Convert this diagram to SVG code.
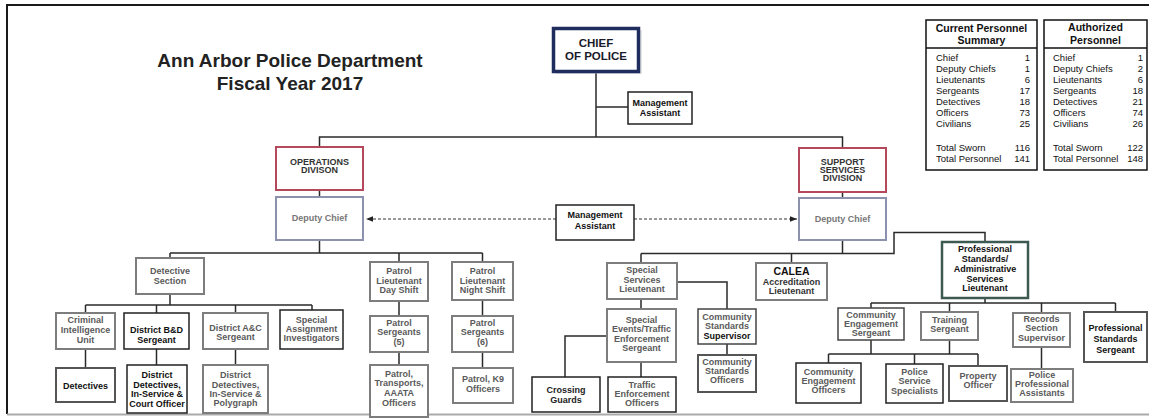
<svg xmlns="http://www.w3.org/2000/svg" width="1149" height="420" viewBox="0 0 1149 420">
<style>
text{font-family:"Liberation Sans",Arial,sans-serif}
.t{font-size:9px;font-weight:bold;text-anchor:middle;fill:#5a5a5a}
.tk{fill:#111}
.b{fill:#fff;stroke:#7d7d7d;stroke-width:2}
.bk{fill:#fff;stroke:#222;stroke-width:1.5}
.ln{stroke:#2a2a2a;stroke-width:1.5;fill:none}
.dash{stroke:#333;stroke-width:1;stroke-dasharray:3 2;fill:none}
.tb{font-size:9.5px;fill:#111}
.tn{font-size:9.5px;fill:#111;text-anchor:end}
.th{font-size:10.5px;font-weight:bold;fill:#111;text-anchor:middle}
</style>
<defs>
<marker id="ah" viewBox="0 0 10 10" refX="10" refY="5" markerWidth="7" markerHeight="7" orient="auto-start-reverse" markerUnits="userSpaceOnUse">
<path d="M0,1 L10,5 L0,9 z" fill="#222"/>
</marker>
</defs>
<rect width="1149" height="420" fill="#fff"/>
<!-- frame -->
<g id="frame">
<path d="M7,414 V5 H1149" stroke="#1a1a1a" stroke-width="2" fill="none"/>
<line x1="7" y1="414.5" x2="1149" y2="414.5" stroke="#aaa" stroke-width="2"/>
</g>
<!-- title -->
<g id="title">
<text x="290" y="67" font-size="19" font-weight="bold" text-anchor="middle" fill="#222">Ann Arbor Police Department</text>
<text x="290" y="90" font-size="19" font-weight="bold" text-anchor="middle" fill="#222">Fiscal Year 2017</text>
</g>
<!-- connectors -->
<g id="connectors">
<path class="ln" d="M596,72 V137 M596,107 H628"/>
<path class="ln" d="M319.5,147 V137 H842.5 V148"/>
<path class="ln" d="M319.5,190 V197 M842.5,192 V198"/>
<path class="dash" d="M556,219 H366" marker-end="url(#ah)"/>
<path class="dash" d="M634,219 H797" marker-end="url(#ah)"/>
<path class="ln" d="M319.5,240 V253 M170,253 H482.5 M170,253 V258 M399,253 V262 M482.5,253 V262"/>
<path class="ln" d="M170,294 V305 M85.5,305 H312 M85.5,305 V313 M156.5,305 V313 M235.5,305 V313 M312,305 V310"/>
<path class="ln" d="M85.5,349 V368 M156.5,349 V365 M235.5,349 V365"/>
<path class="ln" d="M399,301 V316 M399,352 V365 M482.5,300 V316 M482.5,352 V368"/>
<path class="ln" d="M842.5,240 V253.5 M641,253.5 H894 V232.5 H985 V242 M641,253.5 V263 M791.5,253.5 V263"/>
<path class="ln" d="M641,299 V309 M677,282 H727 V309 M727,344 V355 M607,336 H565 V377 M641,362 V377"/>
<path class="ln" d="M985,298 V303 M871,303 H1115.5 M871,303 V308 M949.5,303 V312 M1041.5,303 V313 M1115.5,303 V312"/>
<path class="ln" d="M871,340 V354 M949.5,340 V354 M828.5,354 H978 M828.5,354 V363 M914.5,354 V364 M978,354 V366"/>
<path class="ln" d="M1041.5,347 V369"/>
</g>
<!-- nodes -->
<g id="chief">
<rect x="556" y="30" width="86" height="44" fill="#ccc" opacity="0.5"/>
<rect x="553.5" y="28.5" width="85" height="43" fill="#fff" stroke="#1f2c5e" stroke-width="3.5"/>
<text x="596" y="47" font-size="11.5" font-weight="bold" text-anchor="middle" fill="#1a1a2a">CHIEF</text>
<text x="596" y="60" font-size="11.5" font-weight="bold" text-anchor="middle" fill="#1a1a2a">OF POLICE</text>
</g>
<g id="mgmt-assistant-chief">
<rect class="bk" x="628" y="92" width="64" height="32" stroke-width="1"/>
<text class="t tk" x="660" y="106">Management</text>
<text class="t tk" x="660" y="116">Assistant</text>
</g>
<g id="operations">
<rect x="276" y="147" width="87" height="43" fill="#fff" stroke="#b5485a" stroke-width="2"/>
<text class="t" x="319.5" y="165" style="fill:#333">OPERATIONS</text>
<text class="t" x="319.5" y="173" style="fill:#333">DIVISON</text>
</g>
<g id="ops-deputy">
<rect x="276" y="197" width="87" height="43" fill="#fff" stroke="#8c91ad" stroke-width="2"/>
<text class="t" x="319.5" y="221" style="fill:#777">Deputy Chief</text>
</g>
<g id="mgmt-assistant">
<rect class="bk" x="556" y="205" width="78" height="35" stroke-width="1"/>
<text class="t tk" x="595" y="218">Management</text>
<text class="t tk" x="595" y="229">Assistant</text>
</g>
<g id="support">
<rect x="799" y="148" width="87" height="44" fill="#fff" stroke="#b5485a" stroke-width="2"/>
<text class="t" x="842.5" y="165" style="fill:#333">SUPPORT</text>
<text class="t" x="842.5" y="173" style="fill:#333">SERVICES</text>
<text class="t" x="842.5" y="181" style="fill:#333">DIVISION</text>
</g>
<g id="sup-deputy">
<rect x="799" y="198" width="87" height="42" fill="#fff" stroke="#8c91ad" stroke-width="2"/>
<text class="t" x="842.5" y="222" style="fill:#777">Deputy Chief</text>
</g>
<g id="detective-section">
<rect class="b" x="136" y="258" width="68" height="36"/>
<text class="t" x="170" y="274">Detective</text>
<text class="t" x="170" y="284">Section</text>
</g>
<g id="criminal-intel">
<rect class="b" x="56" y="313" width="59" height="36"/>
<text class="t" x="85.5" y="323">Criminal</text>
<text class="t" x="85.5" y="333">Intelligence</text>
<text class="t" x="85.5" y="343">Unit</text>
</g>
<g id="district-bd">
<rect class="bk" x="124" y="313" width="65" height="36"/>
<text class="t tk" x="156.5" y="333">District B&amp;D</text>
<text class="t tk" x="156.5" y="343">Sergeant</text>
</g>
<g id="district-ac">
<rect class="b" x="203" y="313" width="65" height="36"/>
<text class="t" x="235.5" y="331">District A&amp;C</text>
<text class="t" x="235.5" y="340">Sergeant</text>
</g>
<g id="special-assignment">
<rect class="bk" x="280" y="310" width="63" height="39"/>
<text class="t" x="311.5" y="323">Special</text>
<text class="t" x="311.5" y="332">Assignment</text>
<text class="t" x="311.5" y="341">Investigators</text>
</g>
<g id="detectives">
<rect class="b" x="56" y="368" width="59" height="34" style="stroke:#555"/>
<text class="t tk" x="85.5" y="389">Detectives</text>
</g>
<g id="district-detectives-court">
<rect class="bk" x="127" y="365" width="60" height="48"/>
<text class="t tk" x="157" y="378">District</text>
<text class="t tk" x="157" y="388">Detectives,</text>
<text class="t tk" x="157" y="397">In-Service &amp;</text>
<text class="t tk" x="157" y="407">Court Officer</text>
</g>
<g id="district-detectives-polygraph">
<rect class="b" x="203" y="365" width="65" height="48"/>
<text class="t" x="235.5" y="378">District</text>
<text class="t" x="235.5" y="388">Detectives,</text>
<text class="t" x="235.5" y="397">In-Service &amp;</text>
<text class="t" x="235.5" y="406">Polygraph</text>
</g>
<g id="patrol-day">
<rect class="b" x="370" y="262" width="58" height="39"/>
<text class="t" x="399" y="274">Patrol</text>
<text class="t" x="399" y="284">Lieutenant</text>
<text class="t" x="399" y="293">Day Shift</text>
</g>
<g id="patrol-night">
<rect class="b" x="452" y="262" width="61" height="38"/>
<text class="t" x="482.5" y="274">Patrol</text>
<text class="t" x="482.5" y="284">Lieutenant</text>
<text class="t" x="482.5" y="293">Night Shift</text>
</g>
<g id="patrol-sgt-day">
<rect class="b" x="370" y="316" width="58" height="36"/>
<text class="t" x="399" y="326">Patrol</text>
<text class="t" x="399" y="335">Sergeants</text>
<text class="t" x="399" y="345">(5)</text>
</g>
<g id="patrol-sgt-night">
<rect class="b" x="452" y="316" width="61" height="36"/>
<text class="t" x="482.5" y="326">Patrol</text>
<text class="t" x="482.5" y="335">Sergeants</text>
<text class="t" x="482.5" y="345">(6)</text>
</g>
<g id="patrol-officers-day">
<rect class="b" x="370" y="365" width="58" height="52"/>
<text class="t" x="399" y="377">Patrol,</text>
<text class="t" x="399" y="386">Transports,</text>
<text class="t" x="399" y="396">AAATA</text>
<text class="t" x="399" y="406">Officers</text>
</g>
<g id="patrol-k9">
<rect class="b" x="453" y="368" width="60" height="35"/>
<text class="t" x="483" y="382">Patrol, K9</text>
<text class="t" x="483" y="392">Officers</text>
</g>
<g id="special-services-lt">
<rect class="b" x="607" y="263" width="70" height="36"/>
<text class="t" x="642" y="273">Special</text>
<text class="t" x="642" y="283">Services</text>
<text class="t" x="642" y="292">Lieutenant</text>
</g>
<g id="special-events">
<rect class="b" x="607" y="309" width="69" height="53"/>
<text class="t" x="641.5" y="323">Special</text>
<text class="t" x="641.5" y="332">Events/Traffic</text>
<text class="t" x="641.5" y="342">Enforcement</text>
<text class="t" x="641.5" y="351">Sergeant</text>
</g>
<g id="crossing-guards">
<rect class="bk" x="532" y="377" width="68" height="35"/>
<text class="t" x="566" y="393" style="fill:#222">Crossing</text>
<text class="t" x="566" y="403" style="fill:#222">Guards</text>
</g>
<g id="traffic-officers">
<rect class="bk" x="608" y="377" width="68" height="35"/>
<text class="t" x="642" y="388">Traffic</text>
<text class="t" x="642" y="397">Enforcement</text>
<text class="t" x="642" y="406">Officers</text>
</g>
<g id="community-std-supervisor">
<rect class="bk" x="698" y="309" width="58" height="35" style="stroke:#444"/>
<text class="t" x="727" y="320">Community</text>
<text class="t" x="727" y="329">Standards</text>
<text class="t tk" x="727" y="339">Supervisor</text>
</g>
<g id="community-std-officers">
<rect class="b" x="698" y="355" width="58" height="37" style="stroke:#555"/>
<text class="t" x="727" y="365">Community</text>
<text class="t" x="727" y="374">Standards</text>
<text class="t" x="727" y="383">Officers</text>
</g>
<g id="calea">
<rect class="b" x="756" y="263" width="71" height="37"/>
<text class="t tk" x="791.5" y="275" style="font-size:10.5px">CALEA</text>
<text class="t" x="791.5" y="285" style="fill:#333">Accreditation</text>
<text class="t" x="791.5" y="294" style="fill:#333">Lieutenant</text>
</g>
<g id="ps-as-lt">
<rect x="942" y="242" width="86" height="56" fill="#fff" stroke="#3c5a52" stroke-width="2.5"/>
<text class="t tk" x="985" y="252">Professional</text>
<text class="t tk" x="985" y="262">Standards/</text>
<text class="t tk" x="985" y="272">Administrative</text>
<text class="t tk" x="985" y="282">Services</text>
<text class="t tk" x="985" y="291">Lieutenant</text>
</g>
<g id="ce-sergeant">
<rect class="bk" x="838" y="308" width="66" height="32" style="stroke:#444"/>
<text class="t" x="871" y="318">Community</text>
<text class="t" x="871" y="327">Engagement</text>
<text class="t" x="871" y="336">Sergeant</text>
</g>
<g id="training-sergeant">
<rect class="b" x="921" y="312" width="57" height="28"/>
<text class="t" x="949.5" y="323">Training</text>
<text class="t" x="949.5" y="332">Sergeant</text>
</g>
<g id="records-supervisor">
<rect class="b" x="1013" y="313" width="57" height="34"/>
<text class="t" x="1041.5" y="322">Records</text>
<text class="t" x="1041.5" y="331">Section</text>
<text class="t" x="1041.5" y="341">Supervisor</text>
</g>
<g id="ps-sergeant">
<rect class="b" x="1084" y="312" width="63" height="50" style="stroke:#555"/>
<text class="t tk" x="1115.5" y="331">Professional</text>
<text class="t tk" x="1115.5" y="342">Standards</text>
<text class="t tk" x="1115.5" y="353">Sergeant</text>
</g>
<g id="ce-officers">
<rect class="bk" x="796" y="363" width="65" height="40"/>
<text class="t" x="828.5" y="375">Community</text>
<text class="t" x="828.5" y="384">Engagement</text>
<text class="t" x="828.5" y="393">Officers</text>
</g>
<g id="police-service-specialists">
<rect class="bk" x="886" y="364" width="57" height="39"/>
<text class="t" x="914.5" y="375">Police</text>
<text class="t" x="914.5" y="384">Service</text>
<text class="t" x="914.5" y="394">Specialists</text>
</g>
<g id="property-officer">
<rect class="b" x="949" y="366" width="58" height="35" style="stroke:#555"/>
<text class="t" x="978" y="379">Property</text>
<text class="t" x="978" y="388">Officer</text>
</g>
<g id="police-prof-assistants">
<rect class="b" x="1011" y="369" width="62" height="33"/>
<text class="t" x="1042" y="378">Police</text>
<text class="t" x="1042" y="387">Professional</text>
<text class="t" x="1042" y="396">Assistants</text>
</g>
<!-- tables -->
<g id="current-personnel">
<rect x="926" y="20" width="111" height="150" fill="#fff" stroke="#111" stroke-width="1.5"/>
<line x1="926" y1="48" x2="1037" y2="48" stroke="#111" stroke-width="1.5"/>
<text class="th" x="981.5" y="32">Current Personnel</text>
<text class="th" x="981.5" y="44">Summary</text>
<text class="tb" x="936" y="61">Chief</text><text class="tn" x="1030" y="61">1</text>
<text class="tb" x="936" y="72">Deputy Chiefs</text><text class="tn" x="1030" y="72">1</text>
<text class="tb" x="936" y="83">Lieutenants</text><text class="tn" x="1030" y="83">6</text>
<text class="tb" x="936" y="94">Sergeants</text><text class="tn" x="1030" y="94">17</text>
<text class="tb" x="936" y="105">Detectives</text><text class="tn" x="1030" y="105">18</text>
<text class="tb" x="936" y="116">Officers</text><text class="tn" x="1030" y="116">73</text>
<text class="tb" x="936" y="127">Civilians</text><text class="tn" x="1030" y="127">25</text>
<text class="tb" x="936" y="151">Total Sworn</text><text class="tn" x="1030" y="151">116</text>
<text class="tb" x="936" y="162">Total Personnel</text><text class="tn" x="1030" y="162">141</text>
</g>
<g id="authorized-personnel">
<rect x="1044" y="20" width="103" height="150" fill="#fff" stroke="#111" stroke-width="1.5"/>
<line x1="1044" y1="48" x2="1147" y2="48" stroke="#111" stroke-width="1.5"/>
<text class="th" x="1095.5" y="31">Authorized</text>
<text class="th" x="1095.5" y="44">Personnel</text>
<text class="tb" x="1053" y="61">Chief</text><text class="tn" x="1143" y="61">1</text>
<text class="tb" x="1053" y="72">Deputy Chiefs</text><text class="tn" x="1143" y="72">2</text>
<text class="tb" x="1053" y="83">Lieutenants</text><text class="tn" x="1143" y="83">6</text>
<text class="tb" x="1053" y="94">Sergeants</text><text class="tn" x="1143" y="94">18</text>
<text class="tb" x="1053" y="105">Detectives</text><text class="tn" x="1143" y="105">21</text>
<text class="tb" x="1053" y="116">Officers</text><text class="tn" x="1143" y="116">74</text>
<text class="tb" x="1053" y="127">Civilians</text><text class="tn" x="1143" y="127">26</text>
<text class="tb" x="1053" y="151">Total Sworn</text><text class="tn" x="1143" y="151">122</text>
<text class="tb" x="1053" y="162">Total Personnel</text><text class="tn" x="1143" y="162">148</text>
</g>
</svg>
